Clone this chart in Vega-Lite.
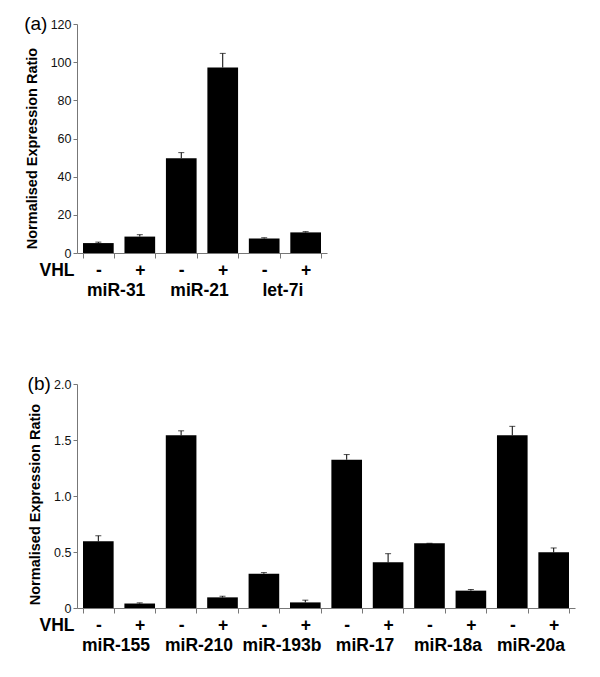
{
  "$schema": "https://vega.github.io/schema/vega-lite/v6.json",
  "padding": {"left": 24, "top": 15, "right": 5, "bottom": 5},
  "config": {
    "font": "Liberation Sans",
    "view": {"stroke": null},
    "axis": {"domainColor": "#777777", "tickColor": "#777777", "labelColor": "#111111", "titleColor": "#000000", "grid": false},
    "title": {"font": "Liberation Sans", "color": "#000000"}
  },
  "spacing": 76,
  "vconcat": [
    {
      "title": {"text": "(a)", "anchor": "start", "frame": "bounds", "fontSize": 19, "fontWeight": "normal", "offset": 0, "dy": 16, "dx": 0},
      "width": 250,
      "height": 229,
      "data": {"values": [
        {"bar": "miR-31|-", "group": "miR-31", "value": 5.2, "err": 0.5},
        {"bar": "miR-31|+", "group": "miR-31", "value": 8.6, "err": 1.0},
        {"bar": "miR-21|-", "group": "miR-21", "value": 49.7, "err": 2.9},
        {"bar": "miR-21|+", "group": "miR-21", "value": 97.2, "err": 7.4},
        {"bar": "let-7i|-", "group": "let-7i", "value": 7.6, "err": 0.4},
        {"bar": "let-7i|+", "group": "let-7i", "value": 10.8, "err": 0.4}
      ]},
      "transform": [{"calculate": "datum.value + datum.err", "as": "hi"}],
      "resolve": {"scale": {"x": "independent"}},
      "layer": [
        {
          "encoding": {
            "x": {"field": "bar", "type": "nominal", "sort": null,
              "scale": {"paddingInner": 0.26, "paddingOuter": 0.145},
              "axis": {"labelAngle": 0, "labelExpr": "split(datum.label, '|')[1]", "labelFontSize": 17.5, "labelColor": "#000000", "labelFontWeight": "bold", "labelPadding": 3, "tickBand": "extent", "tickSize": 5, "title": "VHL", "titleFontSize": 17.5, "titleFontWeight": "bold", "titleAlign": "right", "titleAnchor": "start", "titleBaseline": "middle", "titleX": -3, "titleY": 17, "titleAngle": 0}},
            "y": {"field": "value", "type": "quantitative",
              "scale": {"domain": [0, 120]},
              "axis": {"values": [0, 20, 40, 60, 80, 100, 120], "tickCount": 7, "labelOverlap": false, "labelFontSize": 12.5, "tickSize": 4, "title": "Normalised Expression Ratio", "titleFontSize": 14.5, "titleFontWeight": "bold", "titlePadding": 11, "titleY": 124}}
          },
          "layer": [
            {"mark": {"type": "bar", "color": "#000000"}},
            {
              "mark": {"type": "rule", "color": "#000000", "strokeWidth": 1},
              "encoding": {"y2": {"field": "hi"}}
            },
            {
              "mark": {"type": "tick", "color": "#000000", "size": 6, "thickness": 1},
              "encoding": {"y": {"field": "hi", "type": "quantitative", "axis": {"values": [0, 20, 40, 60, 80, 100, 120], "tickCount": 7, "labelOverlap": false, "labelFontSize": 12.5, "tickSize": 4, "title": "Normalised Expression Ratio", "titleFontSize": 14.5, "titleFontWeight": "bold", "titlePadding": 11, "titleY": 124}}}
            }
          ]
        },
        {
          "mark": {"type": "point", "opacity": 0},
          "encoding": {
            "x": {"field": "group", "type": "nominal", "sort": null,
              "scale": {"paddingInner": 0, "paddingOuter": 0},
              "axis": {"orient": "bottom", "offset": 24, "domain": false, "ticks": false, "labelAngle": 0, "labelFontSize": 17.5, "labelColor": "#000000", "labelFontWeight": "bold", "labelPadding": 4, "labelOffset": -3, "title": null}}
          }
        }
      ]
    },
    {
      "title": {"text": "(b)", "anchor": "start", "frame": "bounds", "fontSize": 19, "fontWeight": "normal", "offset": 0, "dy": 16, "dx": 0},
      "width": 498,
      "height": 224,
      "data": {"values": [
        {"bar": "miR-155|-", "group": "miR-155", "value": 0.595, "err": 0.05},
        {"bar": "miR-155|+", "group": "miR-155", "value": 0.04, "err": 0.006},
        {"bar": "miR-210|-", "group": "miR-210", "value": 1.542, "err": 0.04},
        {"bar": "miR-210|+", "group": "miR-210", "value": 0.095, "err": 0.01},
        {"bar": "miR-193b|-", "group": "miR-193b", "value": 0.306, "err": 0.01},
        {"bar": "miR-193b|+", "group": "miR-193b", "value": 0.05, "err": 0.02},
        {"bar": "miR-17|-", "group": "miR-17", "value": 1.324, "err": 0.046},
        {"bar": "miR-17|+", "group": "miR-17", "value": 0.408, "err": 0.077},
        {"bar": "miR-18a|-", "group": "miR-18a", "value": 0.578, "err": 0},
        {"bar": "miR-18a|+", "group": "miR-18a", "value": 0.155, "err": 0.01},
        {"bar": "miR-20a|-", "group": "miR-20a", "value": 1.542, "err": 0.08},
        {"bar": "miR-20a|+", "group": "miR-20a", "value": 0.497, "err": 0.039}
      ]},
      "transform": [{"calculate": "datum.value + datum.err", "as": "hi"}],
      "resolve": {"scale": {"x": "independent"}},
      "layer": [
        {
          "encoding": {
            "x": {"field": "bar", "type": "nominal", "sort": null,
              "scale": {"paddingInner": 0.26, "paddingOuter": 0.145},
              "axis": {"labelAngle": 0, "labelExpr": "split(datum.label, '|')[1]", "labelFontSize": 17.5, "labelColor": "#000000", "labelFontWeight": "bold", "labelPadding": 3, "tickBand": "extent", "tickSize": 5, "title": "VHL", "titleFontSize": 17.5, "titleFontWeight": "bold", "titleAlign": "right", "titleAnchor": "start", "titleBaseline": "middle", "titleX": -3, "titleY": 17, "titleAngle": 0}},
            "y": {"field": "value", "type": "quantitative",
              "scale": {"domain": [0, 2]},
              "axis": {"values": [0, 0.5, 1, 1.5, 2], "labelOverlap": false, "labelExpr": "datum.value == 0 ? '0' : format(datum.value, '.1f')", "labelFontSize": 12.5, "tickSize": 4, "title": "Normalised Expression Ratio", "titleFontSize": 14.5, "titleFontWeight": "bold", "titlePadding": 11, "titleY": 120}}
          },
          "layer": [
            {"mark": {"type": "bar", "color": "#000000"}},
            {
              "mark": {"type": "rule", "color": "#000000", "strokeWidth": 1},
              "encoding": {"y2": {"field": "hi"}}
            },
            {
              "mark": {"type": "tick", "color": "#000000", "size": 6, "thickness": 1},
              "encoding": {"y": {"field": "hi", "type": "quantitative", "axis": {"values": [0, 0.5, 1, 1.5, 2], "labelOverlap": false, "labelExpr": "datum.value == 0 ? '0' : format(datum.value, '.1f')", "labelFontSize": 12.5, "tickSize": 4, "title": "Normalised Expression Ratio", "titleFontSize": 14.5, "titleFontWeight": "bold", "titlePadding": 11, "titleY": 120}}}
            }
          ]
        },
        {
          "mark": {"type": "point", "opacity": 0},
          "encoding": {
            "x": {"field": "group", "type": "nominal", "sort": null,
              "scale": {"paddingInner": 0, "paddingOuter": 0},
              "axis": {"orient": "bottom", "offset": 24, "domain": false, "ticks": false, "labelAngle": 0, "labelFontSize": 17.5, "labelColor": "#000000", "labelFontWeight": "bold", "labelPadding": 4, "labelOffset": -3, "title": null}}
          }
        }
      ]
    }
  ]
}
